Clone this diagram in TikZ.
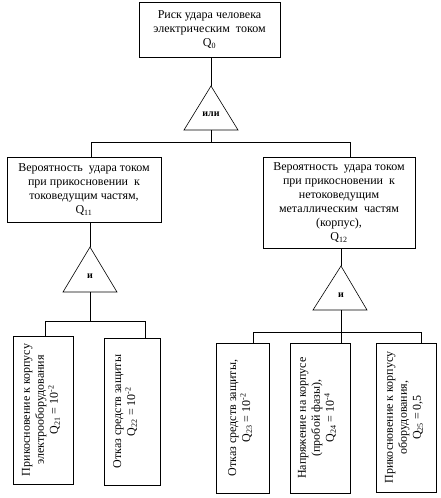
\documentclass[tikz,border=0pt]{standalone}
\usepackage{fontspec}
\setmainfont{Liberation Serif}
\begin{document}
\begin{tikzpicture}[x=1pt,y=-1pt,
 box/.style={draw, line width=0.6pt, inner sep=0pt, align=center, font=\fontsize{12}{14}\selectfont},
 vtext/.style={rotate=90, align=center, font=\fontsize{12}{14}\selectfont, inner sep=0pt},
 gate/.style={draw, line width=0.6pt},
 gatelabel/.style={font=\fontsize{10}{12}\selectfont\bfseries, inner sep=0pt},
 wire/.style={line width=0.6pt}]
\useasboundingbox (0,0) rectangle (440,498);
% top event
\node[box, minimum width=141, minimum height=55] (top) at (209.5,29.5) {Риск удара человека\\электрическим\ \ током\\Q\textsubscript{0}};
% OR gate
\coordinate (g0a) at (211,86);
\coordinate (g0l) at (184,130);
\coordinate (g0r) at (238,130);
\coordinate (g0b) at (211,130);
\draw[gate] (g0a) -- (g0l) -- (g0r) -- cycle;
\node[gatelabel] (g0t) at (211,114) {или};
% second level
\node[box, minimum width=154, minimum height=65] (left) at (84,189.5) {Вероятность\ \ удара током\\при прикосновении\ \ к\\токоведущим частям,\\Q\textsubscript{11}};
\node[box, minimum width=152, minimum height=91] (right) at (339,202.5) {Вероятность\ \ удара током\\при прикосновении\ \ к\\нетоковедущим\\металлическим\ \ частям\\(корпус),\\Q\textsubscript{12}};
% connectors top
\draw[wire] (top.south -| g0a) -- (g0a);
\coordinate (j0) at (211,142);
\coordinate (j0l) at (91,142);
\coordinate (j0r) at (350,142);
\draw[wire] (g0b) -- (j0);
\draw[wire] (j0l) -- (j0r);
\draw[wire] (j0l) -- (j0l |- left.north);
\draw[wire] (j0r) -- (j0r |- right.north);
% left AND gate
\coordinate (g1a) at (90,247);
\coordinate (g1l) at (63,292);
\coordinate (g1r) at (117,292);
\coordinate (g1b) at (90,292);
\draw[gate] (g1a) -- (g1l) -- (g1r) -- cycle;
\node[gatelabel] (g1t) at (90,276) {и};
\draw[wire] (left.south -| g1a) -- (g1a);
% right AND gate
\coordinate (g2a) at (341,266);
\coordinate (g2l) at (313,310);
\coordinate (g2r) at (367,310);
\coordinate (g2b) at (341,310);
\draw[gate] (g2a) -- (g2l) -- (g2r) -- cycle;
\node[gatelabel] (g2t) at (341,295) {и};
\draw[wire] (right.south -| g2a) -- (g2a);
% bottom boxes
\node[box, minimum width=60, minimum height=148] (b1) at (43,410) {};
\node[vtext] (t1) at (41,410) {Прикосновение к корпусу\\электрооборудования\\Q\textsubscript{21} = 10\textsuperscript{-2}};
\node[box, minimum width=56, minimum height=147] (b2) at (132,411.5) {};
\node[vtext] (t2) at (125,411.5) {Отказ средств защиты\\Q\textsubscript{22} = 10\textsuperscript{-2}};
\node[box, minimum width=53, minimum height=150] (b3) at (242.5,418) {};
\node[vtext] (t3) at (240,418) {Отказ средств защиты,\\Q\textsubscript{23} = 10\textsuperscript{-2}};
\node[box, minimum width=60, minimum height=150] (b4) at (320,418) {};
\node[vtext] (t4) at (317,418) {Напряжение на корпусе\\(пробой фазы),\\Q\textsubscript{24} = 10\textsuperscript{-4}};
\node[box, minimum width=60, minimum height=149] (b5) at (406,417.5) {};
\node[vtext] (t5) at (404,417.5) {Прикосновение к корпусу\\оборудования,\\Q\textsubscript{25} = 0,5};
% left branch
\coordinate (j1) at (90,321);
\coordinate (j1l) at (45,321);
\coordinate (j1r) at (145,321);
\draw[wire] (g1b) -- (j1);
\draw[wire] (j1l) -- (j1r);
\draw[wire] (j1l) -- (j1l |- b1.north);
\draw[wire] (j1r) -- (j1r |- b2.north);
% right branch
\coordinate (j2) at (341,332);
\coordinate (j2l) at (253,332);
\coordinate (j2r) at (421,332);
\draw[wire] (g2b) -- (j2);
\draw[wire] (j2l) -- (j2r);
\draw[wire] (j2l) -- (j2l |- b3.north);
\draw[wire] (j2) -- (j2 |- b4.north);
\draw[wire] (j2r) -- (j2r |- b5.north);
\end{tikzpicture}
\end{document}
